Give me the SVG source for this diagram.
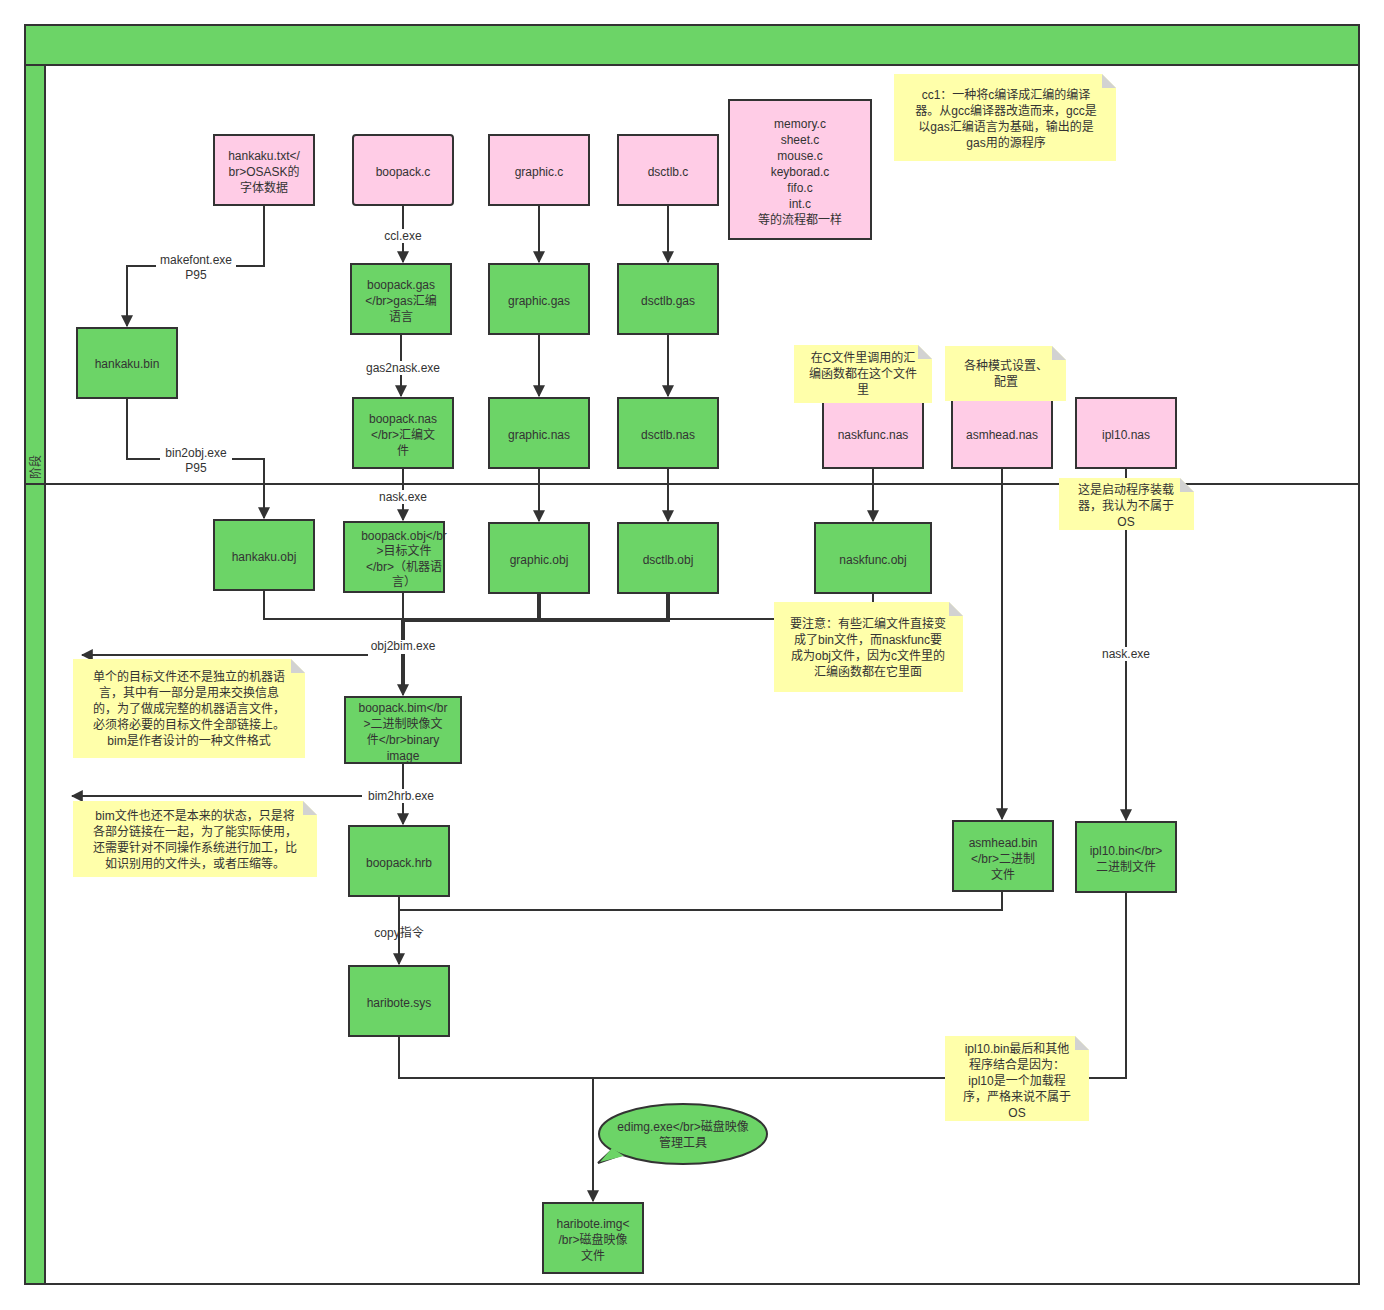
<svg xmlns="http://www.w3.org/2000/svg" width="1384" height="1310" viewBox="0 0 1384 1310">
<style>
text{font-family:"Liberation Sans","Noto Sans CJK SC",sans-serif;font-size:12px;fill:#333;text-anchor:middle}
.p{fill:#ffcce6;stroke:#333;stroke-width:2}
.g{fill:#6cd467;stroke:#333;stroke-width:2}
.n{fill:#ffffaa}
.f{fill:#d2d2d2}
.c{fill:none;stroke:#333;stroke-width:2}
.t{fill:none;stroke:#333;stroke-width:4}
.lb{fill:#fff}
</style>
<defs><marker id="a" viewBox="0 0 10 10" refX="9" refY="5" markerWidth="6" markerHeight="6" orient="auto"><path d="M0,0L10,5L0,10z" fill="#333"/></marker></defs>
<rect width="1384" height="1310" fill="#fff"/>
<g id="pool">
<rect x="25" y="25" width="1334" height="1259" fill="#fff" stroke="#333" stroke-width="2"/>
<rect x="25" y="25" width="1334" height="40" fill="#6cd467" stroke="#333" stroke-width="2"/>
<rect x="25" y="65" width="20" height="1219" fill="#6cd467" stroke="#333" stroke-width="2"/>
<line x1="25" y1="484" x2="1359" y2="484" stroke="#333" stroke-width="2"/>
<text transform="translate(40,467) rotate(-90)">阶段</text>
</g>
<g id="connectors">
<path class="c" d="M264,205V266H127V326" marker-end="url(#a)"/>
<rect class="lb" x="156" y="254" width="80" height="28"/>
<text x="196" y="264">makefont.exe</text><text x="196" y="279">P95</text>
<path class="c" d="M127,398V459H264V518" marker-end="url(#a)"/>
<rect class="lb" x="160" y="447" width="72" height="28"/>
<text x="196" y="457">bin2obj.exe</text><text x="196" y="472">P95</text>
<path class="c" d="M403,205V262" marker-end="url(#a)"/>
<rect class="lb" x="380" y="229" width="46" height="14"/><text x="403" y="240">ccl.exe</text>
<path class="c" d="M401,334V396" marker-end="url(#a)"/>
<rect class="lb" x="362" y="361" width="82" height="14"/><text x="403" y="372">gas2nask.exe</text>
<path class="c" d="M403,468V520" marker-end="url(#a)"/>
<rect class="lb" x="376" y="490" width="56" height="14"/><text x="403" y="501">nask.exe</text>
<path class="c" d="M539,205V262"  marker-end="url(#a)"/>
<path class="c" d="M668,205V262" marker-end="url(#a)"/>
<path class="c" d="M539,334V396" marker-end="url(#a)"/>
<path class="c" d="M668,334V396" marker-end="url(#a)"/>
<path class="c" d="M539,468V521" marker-end="url(#a)"/>
<path class="c" d="M668,468V521" marker-end="url(#a)"/>
<path class="c" d="M873,468V521" marker-end="url(#a)"/>
<path class="c" d="M1002,468V819" marker-end="url(#a)"/>
<path class="c" d="M1126,468V820" marker-end="url(#a)"/>
<rect class="lb" x="1098" y="647" width="56" height="14"/><text x="1126" y="658">nask.exe</text>
<path class="c" d="M264,590V619H403" stroke-width="1.5"/>
<path class="c" d="M873,593V619H403"/>
<path class="t" d="M539,592V620H403M668,592V620H539"/>
<path class="c" d="M403,592V620"/>
<path class="t" d="M403,620V690"/>
<path class="c" d="M403,680V695" marker-end="url(#a)"/>
<rect class="lb" x="368" y="640" width="72" height="14"/><text x="403" y="650">obj2bim.exe</text>
<path class="c" d="M368,655H82" marker-end="url(#a)"/>
<path class="c" d="M403,763V824" marker-end="url(#a)"/>
<rect class="lb" x="364" y="789" width="74" height="14"/><text x="401" y="800">bim2hrb.exe</text>
<path class="c" d="M362,796H72" marker-end="url(#a)"/>
<path class="c" d="M399,896V964" marker-end="url(#a)"/>
<path class="c" d="M1002,891V910H399"/>
<text x="399" y="937">copy指令</text>
<path class="c" d="M399,1036V1078H593V1201" marker-end="url(#a)"/>
<path class="c" d="M1126,892V1078H593"/>
</g>
<g id="hankaku_txt"><rect class="p" x="214" y="135" width="100" height="70"/><text x="264" y="160">hankaku.txt&lt;/</text><text x="264" y="176">br&gt;OSASK的</text><text x="264" y="192">字体数据</text></g>
<g id="boopack_c"><rect class="p" x="353" y="135" width="100" height="70" rx="3"/><text x="403" y="176">boopack.c</text></g>
<g id="graphic_c"><rect class="p" x="489" y="135" width="100" height="70"/><text x="539" y="176">graphic.c</text></g>
<g id="dsctlb_c"><rect class="p" x="618" y="135" width="100" height="70"/><text x="668" y="176">dsctlb.c</text></g>
<g id="memory"><rect class="p" x="729" y="100" width="142" height="139"/><text x="800" y="128">memory.c</text><text x="800" y="144">sheet.c</text><text x="800" y="160">mouse.c</text><text x="800" y="176">keyborad.c</text><text x="800" y="192">fifo.c</text><text x="800" y="208">int.c</text><text x="800" y="224">等的流程都一样</text></g>
<g id="note_cc1"><path class="n" d="M894,74H1102L1116,88V161H894z"/><path class="f" d="M1102,74L1116,88H1102z"/><text x="1006" y="99">cc1：一种将c编译成汇编的编译</text><text x="1006" y="115">器。从gcc编译器改造而来，gcc是</text><text x="1006" y="131">以gas汇编语言为基础，输出的是</text><text x="1006" y="147">gas用的源程序</text></g>
<g id="hankaku_bin"><rect class="g" x="77" y="328" width="100" height="70"/><text x="127" y="368">hankaku.bin</text></g>
<g id="boopack_gas"><rect class="g" x="351" y="264" width="100" height="70"/><text x="401" y="289">boopack.gas</text><text x="401" y="305">&lt;/br&gt;gas汇编</text><text x="401" y="321">语言</text></g>
<g id="graphic_gas"><rect class="g" x="489" y="264" width="100" height="70"/><text x="539" y="305">graphic.gas</text></g>
<g id="dsctlb_gas"><rect class="g" x="618" y="264" width="100" height="70"/><text x="668" y="305">dsctlb.gas</text></g>
<g id="boopack_nas"><rect class="g" x="353" y="398" width="100" height="70"/><text x="403" y="423">boopack.nas</text><text x="403" y="439">&lt;/br&gt;汇编文</text><text x="403" y="455">件</text></g>
<g id="graphic_nas"><rect class="g" x="489" y="398" width="100" height="70"/><text x="539" y="439">graphic.nas</text></g>
<g id="dsctlb_nas"><rect class="g" x="618" y="398" width="100" height="70"/><text x="668" y="439">dsctlb.nas</text></g>
<g id="naskfunc_nas"><rect class="p" x="823" y="398" width="100" height="70"/><text x="873" y="439">naskfunc.nas</text></g>
<g id="asmhead_nas"><rect class="p" x="952" y="398" width="100" height="70"/><text x="1002" y="439">asmhead.nas</text></g>
<g id="ipl10_nas"><rect class="p" x="1076" y="398" width="100" height="70"/><text x="1126" y="439">ipl10.nas</text></g>
<g id="note_c"><path class="n" d="M794,345H918L932,359V403H794z"/><path class="f" d="M918,345L932,359H918z"/><text x="863" y="362">在C文件里调用的汇</text><text x="863" y="378">编函数都在这个文件</text><text x="863" y="394">里</text></g>
<g id="note_mode"><path class="n" d="M945,346H1052L1066,360V401H945z"/><path class="f" d="M1052,346L1066,360H1052z"/><text x="1006" y="370">各种模式设置、</text><text x="1006" y="386">配置</text></g>
<g id="note_boot"><path class="n" d="M1059,478H1180L1194,492V530H1059z"/><path class="f" d="M1180,478L1194,492H1180z"/><text x="1126" y="494">这是启动程序装载</text><text x="1126" y="510">器，我认为不属于</text><text x="1126" y="526">OS</text></g>
<g id="hankaku_obj"><rect class="g" x="214" y="520" width="100" height="70"/><text x="264" y="561">hankaku.obj</text></g>
<g id="boopack_obj"><rect class="g" x="344" y="522" width="100" height="70"/><text x="404" y="540">boopack.obj&lt;/br</text><text x="404" y="555">&gt;目标文件</text><text x="404" y="571">&lt;/br&gt;（机器语</text><text x="404" y="586">言）</text></g>
<g id="graphic_obj"><rect class="g" x="489" y="523" width="100" height="70"/><text x="539" y="564">graphic.obj</text></g>
<g id="dsctlb_obj"><rect class="g" x="618" y="523" width="100" height="70"/><text x="668" y="564">dsctlb.obj</text></g>
<g id="naskfunc_obj"><rect class="g" x="815" y="523" width="116" height="70"/><text x="873" y="564">naskfunc.obj</text></g>
<g id="note_attn"><path class="n" d="M774,602H949L963,616V692H774z"/><path class="f" d="M949,602L963,616H949z"/><text x="868" y="628">要注意：有些汇编文件直接变</text><text x="868" y="644">成了bin文件，而naskfunc要</text><text x="868" y="660">成为obj文件，因为c文件里的</text><text x="868" y="676">汇编函数都在它里面</text></g>
<g id="note_obj"><path class="n" d="M73,659H291L305,673V758H73z"/><path class="f" d="M291,659L305,673H291z"/><text x="189" y="681">单个的目标文件还不是独立的机器语</text><text x="189" y="697">言，其中有一部分是用来交换信息</text><text x="189" y="713">的，为了做成完整的机器语言文件，</text><text x="189" y="729">必须将必要的目标文件全部链接上。</text><text x="189" y="745">bim是作者设计的一种文件格式</text></g>
<g id="boopack_bim"><rect class="g" x="345" y="697" width="116" height="66"/><text x="403" y="712">boopack.bim&lt;/br</text><text x="403" y="728">&gt;二进制映像文</text><text x="403" y="744">件&lt;/br&gt;binary</text><text x="403" y="760">image</text></g>
<g id="note_bim"><path class="n" d="M73,801H303L317,815V877H73z"/><path class="f" d="M303,801L317,815H303z"/><text x="195" y="820">bim文件也还不是本来的状态，只是将</text><text x="195" y="836">各部分链接在一起，为了能实际使用，</text><text x="195" y="852">还需要针对不同操作系统进行加工，比</text><text x="195" y="868">如识别用的文件头，或者压缩等。</text></g>
<g id="boopack_hrb"><rect class="g" x="349" y="826" width="100" height="70"/><text x="399" y="867">boopack.hrb</text></g>
<g id="asmhead_bin"><rect class="g" x="953" y="821" width="100" height="70"/><text x="1003" y="847">asmhead.bin</text><text x="1003" y="863">&lt;/br&gt;二进制</text><text x="1003" y="879">文件</text></g>
<g id="ipl10_bin"><rect class="g" x="1076" y="822" width="100" height="70"/><text x="1126" y="855">ipl10.bin&lt;/br&gt;</text><text x="1126" y="871">二进制文件</text></g>
<g id="haribote_sys"><rect class="g" x="349" y="966" width="100" height="70"/><text x="399" y="1007">haribote.sys</text></g>
<g id="note_ipl"><path class="n" d="M945,1036H1075L1089,1050V1121H945z"/><path class="f" d="M1075,1036L1089,1050H1075z"/><text x="1017" y="1053">ipl10.bin最后和其他</text><text x="1017" y="1069">程序结合是因为：</text><text x="1017" y="1085">ipl10是一个加载程</text><text x="1017" y="1101">序，严格来说不属于</text><text x="1017" y="1117">OS</text></g>
<g id="edimg"><path class="g" d="M621,1155L598,1163L612,1150"/><ellipse class="g" cx="683" cy="1134" rx="84" ry="30"/><path d="M612,1148L600,1162L624,1156z" fill="#6cd467"/><text x="683" y="1131">edimg.exe&lt;/br&gt;磁盘映像</text><text x="683" y="1147">管理工具</text></g>
<g id="haribote_img"><rect class="g" x="543" y="1203" width="100" height="70"/><text x="593" y="1228">haribote.img&lt;</text><text x="593" y="1244">/br&gt;磁盘映像</text><text x="593" y="1260">文件</text></g>
</svg>
